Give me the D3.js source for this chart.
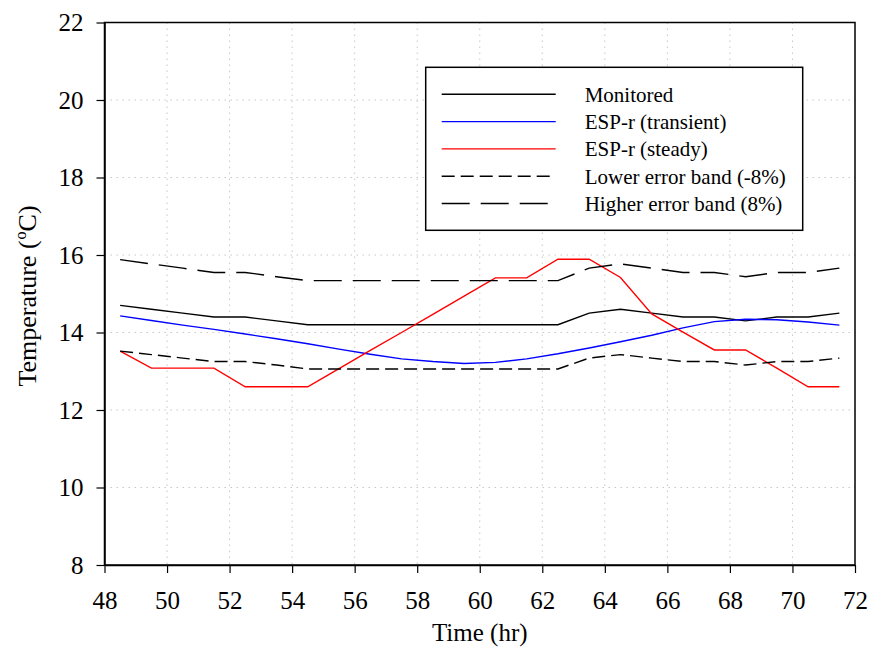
<!DOCTYPE html>
<html>
<head>
<meta charset="utf-8">
<script src="https://d3js.org/d3.v7.min.js"></script>
<style>
  body { margin: 0; background: #fff; }
  text { font-family: "Liberation Serif", "Times New Roman", serif; }
</style>
</head>
<body>
<div id="my_dataviz"></div>
<script>
// data
var hours = [48.5, 49.5, 50.5, 51.5, 52.5, 53.5, 54.5, 55.5, 56.5, 57.5, 58.5, 59.5,
             60.5, 61.5, 62.5, 63.5, 64.5, 65.5, 66.5, 67.5, 68.5, 69.5, 70.5, 71.5];
var monitored = [14.7, 14.6, 14.5, 14.4, 14.4, 14.3, 14.2, 14.2, 14.2, 14.2, 14.2, 14.2,
                 14.2, 14.2, 14.2, 14.5, 14.6, 14.5, 14.4, 14.4, 14.3, 14.4, 14.4, 14.5];
var transient = [14.43, 14.31, 14.19, 14.08, 13.96, 13.84, 13.71, 13.57, 13.44, 13.32, 13.25, 13.2,
                 13.23, 13.32, 13.45, 13.6, 13.76, 13.93, 14.12, 14.28, 14.34, 14.33, 14.27, 14.19];
var steady = [13.52, 13.08, 13.08, 13.08, 12.6, 12.6, 12.6, 13.07, 13.54, 14.0, 14.47, 14.94,
              15.41, 15.41, 15.89, 15.89, 15.42, 14.48, 14.01, 13.55, 13.55, 13.08, 12.6, 12.6];
var lowerBand = [13.52, 13.43, 13.34, 13.25, 13.25, 13.16, 13.06, 13.06, 13.06, 13.06, 13.06, 13.06,
                 13.06, 13.06, 13.06, 13.34, 13.43, 13.34, 13.25, 13.25, 13.16, 13.25, 13.25, 13.34];
var higherBand = [15.88, 15.77, 15.66, 15.55, 15.55, 15.44, 15.34, 15.34, 15.34, 15.34, 15.34, 15.34,
                  15.34, 15.34, 15.34, 15.66, 15.77, 15.66, 15.55, 15.55, 15.44, 15.55, 15.55, 15.66];
var xTicks = [48, 50, 52, 54, 56, 58, 60, 62, 64, 66, 68, 70, 72];
var yTicks = [8, 10, 12, 14, 16, 18, 20, 22];

var seriesNames = ["Monitored", "ESP-r (transient)", "ESP-r (steady)",
                   "Lower error band (-8%)", "Higher error band (8%)"];
var seriesValues = [monitored, transient, steady, lowerBand, higherBand];
var seriesColors = ["#000000", "#0000ff", "#ff0000", "#000000", "#000000"];
var seriesDash = [null, null, null, "13,6", "28,11"];

// set the dimensions and margins of the graph
var margin = {top: 22.5, right: 17, bottom: 83, left: 104.5},
    width = 872 - margin.left - margin.right,
    height = 648 - margin.top - margin.bottom;

var svg = d3.select("#my_dataviz")
  .append("svg")
    .attr("width", 872)
    .attr("height", 648)
  .append("g")
    .attr("transform", "translate(" + margin.left + "," + margin.top + ")");

var x = d3.scaleLinear().domain([48, 72]).range([0, width]);
var y = d3.scaleLinear().domain([8, 22]).range([height, 0]);

// dotted grid
svg.append("g")
  .selectAll("line")
  .data(xTicks.slice(1, -1))
  .enter()
  .append("line")
    .attr("x1", function(d) { return x(d); })
    .attr("x2", function(d) { return x(d); })
    .attr("y1", 0)
    .attr("y2", height)
    .style("stroke", "#c8c8c8")
    .style("stroke-dasharray", "1.5,4.5");

svg.append("g")
  .selectAll("line")
  .data(yTicks.slice(1, -1))
  .enter()
  .append("line")
    .attr("x1", 0)
    .attr("x2", width)
    .attr("y1", function(d) { return y(d); })
    .attr("y2", function(d) { return y(d); })
    .style("stroke", "#c8c8c8")
    .style("stroke-dasharray", "1.5,4.5");

// frame
svg.append("rect")
  .attr("width", width)
  .attr("height", height)
  .style("fill", "none")
  .style("stroke", "#000")
  .style("stroke-width", 1.5);

// Add X axis
var x_axis = d3.axisBottom(x).tickValues(xTicks).tickSize(8).tickSizeOuter(0).tickPadding(18);
svg.append("g")
  .attr("class", "x axis")
  .attr("transform", "translate(0," + height + ")")
  .call(x_axis);

// Add Y axis
var y_axis = d3.axisLeft(y).tickValues(yTicks).tickSize(8).tickSizeOuter(0).tickPadding(13);
svg.append("g")
  .attr("class", "y axis")
  .call(y_axis);

svg.selectAll(".axis path").style("stroke", "#000").style("stroke-width", 1.5);
svg.selectAll(".axis line").style("stroke", "#000").style("stroke-width", 1.2);
svg.selectAll(".axis text")
  .style("font-family", "'Liberation Serif', serif")
  .style("font-size", "25px")
  .style("fill", "#000");

// lines
var line = d3.line()
  .x(function(d, i) { return x(hours[i]); })
  .y(function(d) { return y(d); });

svg.append("g")
  .selectAll("path")
  .data(seriesValues)
  .enter()
  .append("path")
    .attr("d", line)
    .style("fill", "none")
    .style("stroke", function(d, i) { return seriesColors[i]; })
    .style("stroke-width", 1.4)
    .style("stroke-dasharray", function(d, i) { return seriesDash[i]; });

// legend
var legend = svg.append("g")
  .attr("transform", "translate(" + (425.7 - margin.left) + "," + (67.3 - margin.top) + ")");

legend.append("rect")
  .attr("width", 377)
  .attr("height", 163)
  .style("fill", "#fff")
  .style("stroke", "#000")
  .style("stroke-width", 1.5);

var rows = legend.selectAll(".row")
  .data(seriesNames)
  .enter()
  .append("g")
    .attr("class", "row")
    .attr("transform", function(d, i) { return "translate(0," + (27 + i * 27.3) + ")"; });

rows.append("line")
  .attr("x1", 16)
  .attr("x2", 130)
  .style("stroke", function(d, i) { return seriesColors[i]; })
  .style("stroke-width", 1.4)
  .style("stroke-dasharray", function(d, i) { return seriesDash[i]; });

rows.append("text")
  .attr("x", 159)
  .attr("dy", "0.35em")
  .style("font-size", "21px")
  .text(function(d) { return d; });

// text label for the x axis
svg.append("text")
  .attr("x", width / 2)
  .attr("y", 641 - margin.top)
  .style("text-anchor", "middle")
  .style("font-size", "25px")
  .text("Time (hr)");

// text label for the y axis
var yLabel = svg.append("text")
  .attr("transform", "rotate(-90)")
  .attr("x", 0 - (296 - margin.top))
  .attr("y", 36 - margin.left)
  .style("text-anchor", "middle")
  .style("font-size", "26px");
yLabel.append("tspan").text("Temperature (");
yLabel.append("tspan").attr("dy", -10).attr("dx", 1).style("font-size", "16px").text("o");
yLabel.append("tspan").attr("dy", 10).text("C)");
</script>
</body>
</html>
